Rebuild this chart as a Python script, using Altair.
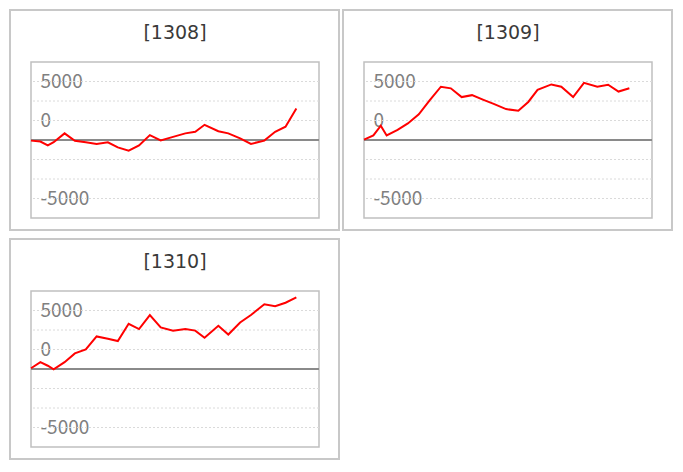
import altair as alt
import pandas as pd

# ---- data ----
panels = ["[1308]", "[1309]", "[1310]"]
days = [0, 0.85, 1.52, 2.05, 3.04, 3.97, 4.96, 5.94, 6.96, 7.86, 8.84, 9.78, 10.76,
        11.74, 12.86, 13.97, 14.87, 15.71, 16.96, 17.86, 18.93, 19.91, 21.12, 22.1,
        23.04, 24.02]
v1308 = [-80, -200, -700, -280, 850, -100, -300, -500, -300, -950, -1375, -700, 625,
         -50, 400, 850, 1050, 1950, 1125, 850, 200, -500, -80, 1050, 1700, 4050]
v1309 = [50, 580, 1830, 580, 1290, 2125, 3290, 5080, 6830, 6625, 5500, 5750, 5170,
         4625, 3960, 3750, 4875, 6420, 7125, 6830, 5500, 7330, 6830, 7080, 6210, 6625]
v1310 = [100, 875, 420, -40, 875, 2000, 2500, 4170, 3875, 3580, 5790, 5125, 6920,
         5330, 4920, 5125, 4920, 4000, 5540, 4420, 5960, 6920, 8290, 8040, 8500, 9170]
grid_values = [-7500, -5000, -2500, 2500, 5000, 7500]
label_values = [7500, 2500, -7500]
label_texts = ["5000", "0", "-5000"]
x_domain = [0, 26.07]
y_domain = [-10000, 10000]

W, H = 288, 156

label_expr = ""
for v, t in zip(label_values[:-1], label_texts[:-1]):
    label_expr += f"datum.value == {v} ? '{t}' : "
label_expr += f"'{label_texts[-1]}'"

y_axis = alt.Axis(
    values=label_values, labelExpr=label_expr, title=None,
    grid=False, domain=False, ticks=False, tickSize=0,
    labelAlign="left", labelBaseline="middle", labelPadding=-9,
    labelFont="Noto Sans CJK JP", labelFontSize=19,
    labelColor="#808080", labelOverlap=False, zindex=0,
)


def panel(name, vals):
    df = pd.DataFrame({"day": days, "pl": vals})
    head = pd.DataFrame({"name": [name]})
    grid = pd.DataFrame({"g": grid_values})
    zero = pd.DataFrame({"z": [0]})
    xs = alt.Scale(domain=x_domain, nice=False, zero=False)
    ys = alt.Scale(domain=y_domain, nice=False)

    frame = alt.Chart(head).mark_rect(
        fillOpacity=0, stroke="#c8c8c8", strokeWidth=2
    ).encode(
        x=alt.value(-21), x2=alt.value(W + 20),
        y=alt.value(-52), y2=alt.value(H + 12),
    )
    gridlines = alt.Chart(grid).mark_rule(
        color="#dadada", strokeDash=[2, 2], strokeWidth=1
    ).encode(
        y=alt.Y("g:Q", scale=ys, axis=y_axis)
    )
    zline = alt.Chart(zero).mark_rule(color="#8a8a8a", strokeWidth=2).encode(
        y=alt.Y("z:Q", scale=ys, axis=y_axis)
    )
    line = alt.Chart(df).mark_line(color="#ff0000", strokeWidth=2).encode(
        x=alt.X("day:Q", scale=xs, axis=None),
        y=alt.Y("pl:Q", scale=ys, axis=y_axis),
    )
    title = alt.Chart(head).mark_text(
        font="DejaVu Sans", fontSize=19, color="#3a3a3a",
        align="center", baseline="middle"
    ).encode(
        x=alt.value(W / 2), y=alt.value(-29), text="name:N"
    )
    return alt.layer(frame, gridlines, zline, line, title).properties(width=W, height=H)


p1 = panel(panels[0], v1308)
p2 = panel(panels[1], v1309)
p3 = panel(panels[2], v1310)

chart = alt.vconcat(
    alt.hconcat(p1, p2, spacing=0),
    p3,
    spacing=5,
).properties(
    padding=0, background="white"
).configure_view(
    stroke="#c0c0c0", strokeWidth=1.5
)

chart.save("out.html", embed_options={"renderer": "svg", "actions": False})
